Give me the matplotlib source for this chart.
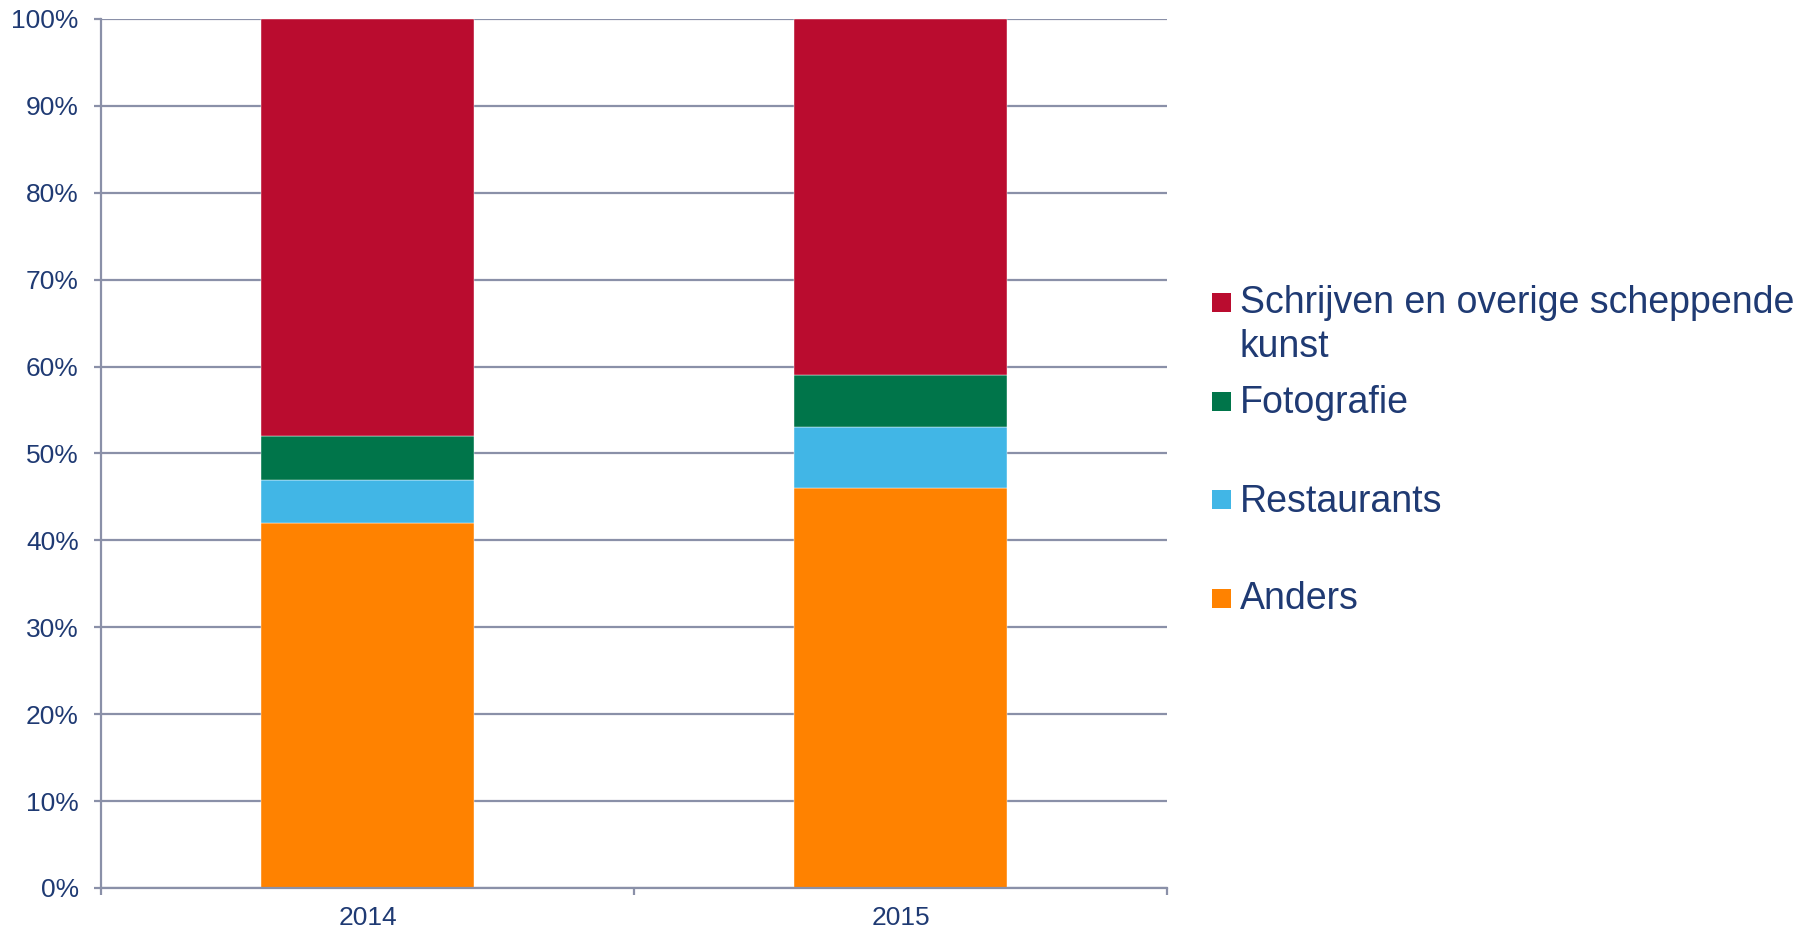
import numpy as np
import matplotlib
matplotlib.use("Agg")
import matplotlib.pyplot as plt
from matplotlib.patches import Rectangle
from matplotlib.ticker import FixedLocator, FuncFormatter

plt.rcParams['font.family'] = ['Liberation Sans', 'DejaVu Sans']

# Data: share per category (percent), stacked bottom -> top
years = ['2014', '2015']
series_names = ['Anders', 'Restaurants', 'Fotografie',
                'Schrijven en overige scheppende\nkunst']
anders = [42, 46]
restaurants = [5, 7]
fotografie = [5, 6]
schrijven = [48, 41]
series_values = [anders, restaurants, fotografie, schrijven]
series_colors = ['#FF8200', '#41B6E6', '#00754A', '#BA0C2F']

TEXT = '#1F3A73'
GRID = '#8A90A8'

fig = plt.figure(figsize=(18.08, 9.31), dpi=100)
ax = fig.add_axes([0.0559, 0.0462, 0.5896, 0.9334])

x = np.arange(len(years))
bottom = np.zeros(len(years))
for vals, col, name in zip(series_values, series_colors, series_names):
    ax.bar(x, vals, width=0.4, bottom=bottom, color=col, label=name,
           edgecolor='white', linewidth=0.3, zorder=3)
    bottom += np.array(vals)

ax.set_xlim(-0.5, len(years) - 0.5)
ax.set_ylim(0, 100)
ax.set_yticks(np.arange(0, 101, 10))
ax.yaxis.set_major_formatter(FuncFormatter(lambda v, p: f'{v:.0f}%'))
ax.grid(axis='y', color=GRID, linewidth=1.6, zorder=0)

ax.set_xticks(x)
ax.set_xticklabels(years)
ax.xaxis.set_minor_locator(FixedLocator([-0.5, 0.5, 1.5]))
ax.tick_params(axis='x', which='major', length=0, pad=13, labelsize=19,
               labelcolor=TEXT)
ax.tick_params(axis='x', which='minor', length=5, width=1.6, color=GRID)
ax.tick_params(axis='y', length=5, width=1.6, color=GRID, pad=11,
               labelsize=19, labelcolor=TEXT)

for s in ['top', 'right']:
    ax.spines[s].set_visible(False)
for s in ['left', 'bottom']:
    ax.spines[s].set_color(GRID)
    ax.spines[s].set_linewidth(1.6)
    ax.spines[s].set_zorder(4)

# Legend drawn by hand (Excel style spacing), top entry first
W, H = 1808.0, 931.0
legend_marker_y = [302, 401, 499.5, 598.5]
legend_baseline_y = [313, 413, 512, 609]
line_step = 44
for i, (name, col) in enumerate(zip(series_names[::-1], series_colors[::-1])):
    cy = legend_marker_y[i]
    fig.add_artist(Rectangle((1212 / W, (H - cy - 9.5) / H), 19 / W, 19 / H,
                             transform=fig.transFigure, facecolor=col,
                             edgecolor='none'))
    for k, line in enumerate(name.split('\n')):
        fig.text(1240 / W, (H - legend_baseline_y[i] - k * line_step) / H,
                 line, fontsize=27, color=TEXT, ha='left', va='baseline')

fig.savefig('out.png', dpi=100)
